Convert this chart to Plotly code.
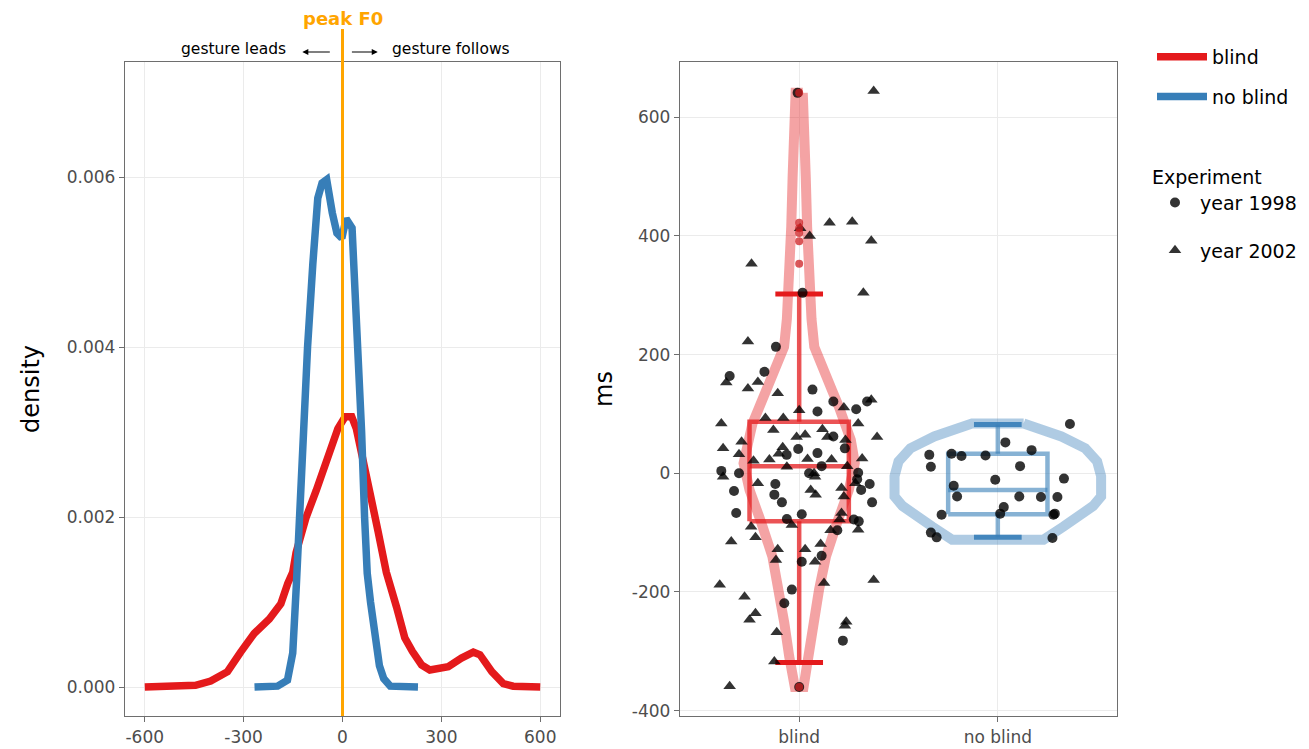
import plotly.graph_objects as go

# ---------------- left panel: density of gesture/peak-F0 offsets ----------------
blind_dens_x = [-600, -502, -446, -400, -349, -309, -268, -222, -187, -166, -151, -141, -111, -80, -45,
                -14, 8, 28, 42, 62, 82, 108, 133, 164, 189, 212, 240, 265, 321, 361, 397, 417, 453,
                488, 518, 600]
blind_dens_y = [0, 0, 0.00002, 0.00007, 0.00018, 0.00041, 0.00063, 0.0008, 0.00098, 0.00122, 0.00135,
                0.00158, 0.00199, 0.00231, 0.00272, 0.00304, 0.00318, 0.00318, 0.00304, 0.00272,
                0.00231, 0.00183, 0.00135, 0.00094, 0.00058, 0.00042, 0.00026, 0.0002, 0.00024,
                0.00034, 0.00041, 0.00038, 0.00018, 0.00004, 0.00001, 0]
noblind_dens_x = [-267, -197, -167, -151, -140, -131, -118, -106, -90, -75, -62, -48, -31, -17, -2, 11,
                  29, 40, 49, 58, 67, 75, 85, 100, 112, 125, 145, 229]
noblind_dens_y = [0, 0.00001, 0.00008, 0.0004, 0.0012, 0.002, 0.003, 0.004, 0.00498, 0.00575, 0.00593,
                  0.00597, 0.00558, 0.00534, 0.00528, 0.00551, 0.0054, 0.0045, 0.004, 0.003, 0.002,
                  0.00134, 0.001, 0.0005, 0.00025, 0.0001, 0.00001, 0]
offset_ticks = [-600, -300, 0, 300, 600]
density_ticks = [0, 0.002, 0.004, 0.006]
peak_f0 = 0

# ---------------- right panel: ms by group ----------------
groups = ["blind", "no blind"]
group_pos = [0, 1]
ms_ticks = [-400, -200, 0, 200, 400, 600]

# violin outlines (ms level, half width)
blind_violin_ms = [641, 600, 500, 415, 350, 300, 260, 213, 190, 168, 140, 112, 84, 56, 17, -28, -84,
                   -140, -196, -252, -309, -340, -360]
blind_violin_hw = [0.018, 0.025, 0.033, 0.04, 0.046, 0.054, 0.062, 0.076, 0.1, 0.125, 0.165, 0.2,
                   0.235, 0.26, 0.28, 0.25, 0.19, 0.135, 0.1, 0.075, 0.05, 0.035, 0.022]
noblind_violin_ms = [84, 75, 62, 42, 20, -5, -39, -55, -70, -90, -112]
noblind_violin_hw = [0.13, 0.22, 0.32, 0.44, 0.5, 0.52, 0.52, 0.48, 0.42, 0.33, 0.23]

# box statistics: lower whisker, q1, median, q3, upper whisker
blind_box = [-319, -81, 12, 87, 302]
noblind_box = [-108, -69, -28, 33, 82]
blind_outliers = [641, 422, 413, 405, 391, 353, -360]

# jittered observations (jitter offset, ms)
blind_1998_jit = [-0.008, 0.017, -0.117, -0.35, -0.175, 0.067, 0.172, 0.287, 0.342, 0.092, 0.172, 0.23,
                  -0.005, -0.063, 0.092, 0.113, -0.392, -0.303, 0.05, 0.297, 0.292, -0.12, 0.355,
                  -0.328, 0.312, -0.125, -0.087, 0.367, -0.317, 0.013, -0.062, 0.275, 0.3, 0.192,
                  0.113, 0.013, -0.037, -0.075, 0.22, 0.0]
blind_1998_ms = [641, 304, 213, 164, 171, 141, 121, 108, 121, 104, 62, 42, 41, 31, 34, 12, 4, 0, 0, 1,
                 -10, -18, -18, -30, -28, -36, -49, -49, -67, -69, -77, -78, -81, -96, -139, -149, -196,
                 -219, -282, -360]
blind_2002_jit = [0.375, 0.005, 0.053, 0.153, 0.267, 0.363, -0.24, 0.323, -0.258, -0.367, -0.208, -0.258,
                  -0.108, 0.225, 0.363, 0.0, -0.392, -0.17, -0.08, 0.297, -0.13, 0.117, -0.013, 0.03,
                  0.142, 0.392, -0.29, -0.383, 0.233, -0.083, -0.103, -0.303, 0.317, -0.15, 0.042,
                  0.163, -0.23, -0.062, 0.242, -0.383, 0.075, 0.08, 0.283, -0.208, 0.058, 0.213, 0.083,
                  0.225, 0.213, 0.203, -0.242, -0.037, 0.158, 0.297, -0.22, -0.342, 0.108, -0.108,
                  0.03, -0.117, 0.08, -0.4, 0.125, 0.375, -0.275, -0.22, -0.25, 0.237, 0.23, -0.113,
                  -0.125, -0.35]
blind_2002_ms = [644, 413, 400, 422, 424, 392, 353, 304, 222, 153, 154, 143, 135, 111, 124, 106, 84, 93,
                 93, 84, 73, 74, 61, 65, 61, 61, 53, 42, 56, 44, 33, 32, 25, 23, 24, 23, 21, 11, 12,
                 -6, 0, -6, -17, -17, -28, -25, -36, -39, -67, -78, -90, -87, -96, -95, -108, -115,
                 -119, -128, -128, -146, -149, -188, -185, -180, -208, -236, -247, -250, -257, -268,
                 -317, -359]
noblind_1998_jit = [0.363, -0.345, -0.337, -0.233, -0.183, -0.062, 0.038, 0.17, 0.112, -0.013, 0.333,
                    -0.222, -0.205, 0.108, 0.217, 0.3, 0.03, 0.012, -0.283, 0.287, 0.28, -0.337, -0.308,
                    0.275]
noblind_1998_ms = [83, 31, 11, 33, 29, 30, 52, 39, 12, -11, -9, -21, -39, -39, -40, -40, -57, -68, -70,
                   -68, -70, -100, -108, -109]

RED = "#E41A1C"
BLUE = "#377EB8"
FONT = "DejaVu Sans"

# page has an 8px body margin: size the figure to the visible window and place by window pixels
OFF = 8
W, H = 1309 - OFF, 749 - OFF


def fx(px):
    return (px - OFF) / W


def fy(py):
    return 1 - (py - OFF) / H


fig = go.Figure()

# density lines
fig.add_trace(go.Scatter(x=blind_dens_x, y=blind_dens_y, mode="lines", name=groups[0],
                         line=dict(color=RED, width=7.5), legend="legend", legendgroup="a",
                         xaxis="x", yaxis="y"))
fig.add_trace(go.Scatter(x=noblind_dens_x, y=noblind_dens_y, mode="lines", name=groups[1],
                         line=dict(color=BLUE, width=7.5), legend="legend", legendgroup="b",
                         xaxis="x", yaxis="y"))


def violin_path(pos, ms, hw):
    xs = [pos + w for w in hw] + [pos - w for w in reversed(hw)] + [pos + hw[0]]
    ys = list(ms) + list(reversed(ms)) + [ms[0]]
    return xs, ys


def box_path(pos, stats, half_box):
    lo, q1, med, q3, hi = stats
    xs = [pos - half_box, pos + half_box, pos + half_box, pos - half_box, pos - half_box, None,
          pos - half_box, pos + half_box, None, pos, pos, None, pos, pos]
    ys = [q1, q1, q3, q3, q1, None, med, med, None, q3, hi, None, q1, lo]
    return xs, ys


def cap_path(pos, stats, half_cap):
    lo, hi = stats[0], stats[-1]
    return ([pos - half_cap, pos + half_cap, None, pos - half_cap, pos + half_cap],
            [hi, hi, None, lo, lo])


for pos, ms, hw, col in [(group_pos[0], blind_violin_ms, blind_violin_hw, "rgba(228,26,28,0.4)"),
                         (group_pos[1], noblind_violin_ms, noblind_violin_hw, "rgba(55,126,184,0.4)")]:
    vx, vy = violin_path(pos, ms, hw)
    fig.add_trace(go.Scatter(x=vx, y=vy, mode="lines", line=dict(color=col, width=10),
                             showlegend=False, hoverinfo="skip", xaxis="x2", yaxis="y2"))

for pos, stats, col, capcol in [(group_pos[0], blind_box, "rgba(228,26,28,0.75)", RED),
                                (group_pos[1], noblind_box, "rgba(55,126,184,0.6)", "rgba(55,126,184,0.9)")]:
    bx, by = box_path(pos, stats, 0.25)
    fig.add_trace(go.Scatter(x=bx, y=by, mode="lines", line=dict(color=col, width=4.5),
                             showlegend=False, hoverinfo="skip", xaxis="x2", yaxis="y2"))
    cx, cy = cap_path(pos, stats, 0.12)
    fig.add_trace(go.Scatter(x=cx, y=cy, mode="lines", line=dict(color=capcol, width=5),
                             showlegend=False, hoverinfo="skip", xaxis="x2", yaxis="y2"))

# jittered points
x1998 = [group_pos[0] + j for j in blind_1998_jit] + [group_pos[1] + j for j in noblind_1998_jit]
y1998 = blind_1998_ms + noblind_1998_ms
x2002 = [group_pos[0] + j for j in blind_2002_jit]
y2002 = blind_2002_ms
fig.add_trace(go.Scatter(x=x1998, y=y1998, mode="markers", name="year 1998",
                         marker=dict(symbol="circle", size=10, color="rgba(0,0,0,0.8)"),
                         legend="legend2", legendgroup="c", xaxis="x2", yaxis="y2"))
fig.add_trace(go.Scatter(x=x2002, y=y2002, mode="markers", name="year 2002",
                         marker=dict(symbol="triangle-up", size=11, color="rgba(0,0,0,0.8)"),
                         legend="legend2", legendgroup="d", xaxis="x2", yaxis="y2"))

# box outliers
fig.add_trace(go.Scatter(x=[group_pos[0]] * len(blind_outliers), y=blind_outliers, mode="markers",
                         marker=dict(size=8, color="rgba(205,30,32,0.75)"), showlegend=False,
                         hoverinfo="skip", xaxis="x2", yaxis="y2"))

# ---------------- layout ----------------
xdom1 = [fx(125), fx(560)]
xdom2 = [fx(680), fx(1117)]
ydom = [fy(716), fy(62)]
xr1 = [-660, 660]

axis_common = dict(showgrid=True, gridcolor="#EBEBEB", gridwidth=1, zeroline=False, showline=True,
                   mirror=True, linecolor="#6e6e6e", linewidth=1.3, ticks="outside", ticklen=5,
                   tickcolor="#6e6e6e", automargin=False,
                   tickfont=dict(size=17, color="#4d4d4d", family=FONT))

fig.update_layout(
    width=W, height=H, margin=dict(l=0, r=0, t=0, b=0, autoexpand=False),
    paper_bgcolor="white", plot_bgcolor="white",
    font=dict(family=FONT, color="black"),
    xaxis=dict(domain=xdom1, range=xr1, tickvals=offset_ticks,
               ticktext=[str(v) for v in offset_ticks], anchor="y", **axis_common),
    yaxis=dict(domain=ydom, range=[-0.000341, 0.007353], tickvals=density_ticks,
               ticktext=["%.3f" % v for v in density_ticks], anchor="x",
               title=dict(text="density", font=dict(size=24), standoff=20), **axis_common),
    xaxis2=dict(domain=xdom2, range=[-0.6, 1.6], tickvals=group_pos, ticktext=groups, anchor="y2",
                **axis_common),
    yaxis2=dict(domain=ydom, range=[-409, 693], tickvals=ms_ticks,
                ticktext=[str(v) for v in ms_ticks], anchor="x2",
                title=dict(text="ms", font=dict(size=24), standoff=12), **axis_common),
    legend=dict(x=fx(1152), y=fy(38), xanchor="left", yanchor="top", font=dict(size=19),
                tracegroupgap=12, itemwidth=50, bgcolor="rgba(0,0,0,0)"),
    legend2=dict(x=fx(1150), y=fy(159), xanchor="left", yanchor="top", font=dict(size=19),
                 title=dict(text="Experiment", font=dict(size=19)), tracegroupgap=20,
                 itemwidth=40, bgcolor="rgba(0,0,0,0)"),
    showlegend=True,
)

# peak F0 reference line (x position derived from the left axis scale)
xp = xdom1[0] + (peak_f0 - xr1[0]) / (xr1[1] - xr1[0]) * (xdom1[1] - xdom1[0])
fig.add_shape(type="line", xref="paper", yref="paper", x0=xp, x1=xp, y0=ydom[0], y1=fy(29),
              line=dict(color="#FFA500", width=3), layer="above")

fig.add_annotation(text="<b>peak F0</b>", x=peak_f0, xref="x", y=fy(18), yref="paper",
                   showarrow=False, font=dict(size=18, color="#FFA500"), xanchor="center",
                   yanchor="middle")
fig.add_annotation(text="gesture leads", x=-165, xref="x", y=fy(49), yref="paper",
                   showarrow=False, font=dict(size=15.5, color="black"), xanchor="right",
                   yanchor="middle")
fig.add_annotation(text="gesture follows", x=143, xref="x", y=fy(49), yref="paper",
                   showarrow=False, font=dict(size=15.5, color="black"), xanchor="left",
                   yanchor="middle")
fig.add_annotation(text="", x=-122, xref="x", y=fy(52), yref="paper", ax=-34, axref="x",
                   ay=0, ayref="pixel", showarrow=True, arrowhead=2, arrowsize=1, arrowwidth=1.2,
                   arrowcolor="black")
fig.add_annotation(text="", x=107, xref="x", y=fy(52), yref="paper", ax=24, axref="x",
                   ay=0, ayref="pixel", showarrow=True, arrowhead=2, arrowsize=1, arrowwidth=1.2,
                   arrowcolor="black")

fig.write_html("out.html")
